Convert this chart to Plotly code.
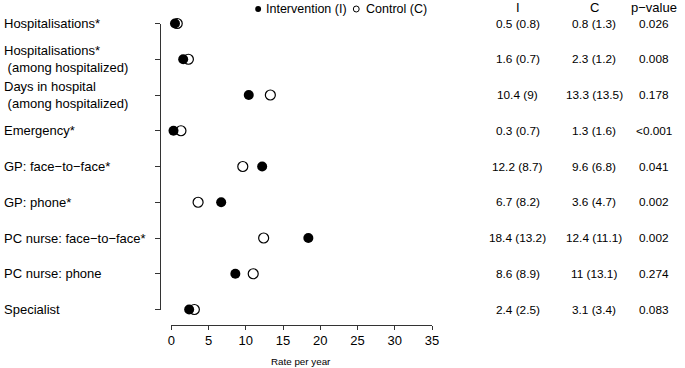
import plotly.graph_objects as go

W, H = 685, 368

categories = [
    "Hospitalisations*",
    "Hospitalisations*<br>\u00a0(among hospitalized)",
    "Days in hospital<br>\u00a0(among hospitalized)",
    "Emergency*",
    "GP: face\u2212to\u2212face*",
    "GP: phone*",
    "PC nurse: face\u2212to\u2212face*",
    "PC nurse: phone",
    "Specialist",
]
intervention = [0.5, 1.6, 10.4, 0.3, 12.2, 6.7, 18.4, 8.6, 2.4]
control = [0.8, 2.3, 13.3, 1.3, 9.6, 3.6, 12.4, 11.0, 3.1]
col_I = ["0.5 (0.8)", "1.6 (0.7)", "10.4 (9)", "0.3 (0.7)", "12.2 (8.7)",
         "6.7 (8.2)", "18.4 (13.2)", "8.6 (8.9)", "2.4 (2.5)"]
col_C = ["0.8 (1.3)", "2.3 (1.2)", "13.3 (13.5)", "1.3 (1.6)", "9.6 (6.8)",
         "3.6 (4.7)", "12.4 (11.1)", "11 (13.1)", "3.1 (3.4)"]
col_p = ["0.026", "0.008", "0.178", "<0.001", "0.041",
         "0.002", "0.002", "0.274", "0.083"]
x_ticks = [0, 5, 10, 15, 20, 25, 30, 35]

FONT = "Liberation Sans, Arial, Helvetica, sans-serif"
AX = "#333333"

def px(x):
    return x / W

def py(y):
    return 1 - y / H

idx = list(range(len(categories)))

fig = go.Figure()
fig.add_trace(go.Scatter(
    x=control, y=idx, mode="markers", name="Control (C)",
    marker=dict(symbol="circle-open", size=10, color="black", line=dict(width=1.2, color="black")),
    cliponaxis=False, showlegend=False))
fig.add_trace(go.Scatter(
    x=intervention, y=idx, mode="markers", name="Intervention (I)",
    marker=dict(symbol="circle", size=10, color="black", line=dict(width=0)),
    cliponaxis=False, showlegend=False))

annotations = []
for i, lab in enumerate(categories):
    annotations.append(dict(x=0, xref="paper", y=i, yref="y", text=lab,
                            xanchor="left", yanchor="middle", align="left",
                            borderpad=0, borderwidth=0,
                            showarrow=False, font=dict(size=13, color="black", family=FONT)))
    for xc, col in ((522, col_I), (600, col_C), (661, col_p)):
        annotations.append(dict(x=px(xc), xref="paper", y=i, yref="y", text=col[i],
                                xanchor="center", yanchor="middle", showarrow=False,
                                font=dict(size=11.8, color="black", family=FONT)))
for xc, t in ((522, "I"), (600, "C"), (661, "p\u2212value")):
    annotations.append(dict(x=px(xc), xref="paper", y=py(8), yref="paper", text=t,
                            xanchor="center", yanchor="middle", showarrow=False,
                            font=dict(size=13, color="black", family=FONT)))
# axis title
annotations.append(dict(x=px(301.5), xref="paper", y=py(361), yref="paper", text="Rate per year",
                        xanchor="center", yanchor="middle", showarrow=False,
                        font=dict(size=9.8, color="black", family=FONT)))
# legend
annotations.append(dict(x=px(266.5), xref="paper", y=py(9), yref="paper", text="Intervention (I)",
                        xanchor="left", yanchor="middle", showarrow=False, borderpad=0, borderwidth=0,
                        font=dict(size=12.5, color="black", family=FONT)))
annotations.append(dict(x=px(367.5), xref="paper", y=py(9), yref="paper", text="Control (C)",
                        xanchor="left", yanchor="middle", showarrow=False, borderpad=0, borderwidth=0,
                        font=dict(size=12.5, color="black", family=FONT)))
shapes = [
    dict(type="circle", xref="paper", yref="paper",
         x0=px(255.3), x1=px(261.3), y0=py(12), y1=py(6),
         fillcolor="black", line=dict(width=0)),
    dict(type="circle", xref="paper", yref="paper",
         x0=px(355), x1=px(361), y0=py(12), y1=py(6),
         fillcolor="rgba(0,0,0,0)", line=dict(width=1, color="black")),
]

fig.update_layout(
    width=W, height=H, autosize=False,
    margin=dict(l=0, r=0, t=0, b=0),
    paper_bgcolor="white", plot_bgcolor="white",
    showlegend=False,
    font=dict(family=FONT, size=13, color="black"),
    xaxis=dict(domain=[px(170), px(435)], range=[0, 35], tickvals=x_ticks,
               showline=True, linecolor=AX, linewidth=1, ticks="outside", ticklen=4,
               tickcolor=AX, tickwidth=1, showgrid=False, zeroline=False,
               anchor="free", position=py(324.5),
               tickfont=dict(size=13, color="black", family=FONT)),
    yaxis=dict(domain=[py(309.5), py(23.5)], range=[8, 0], tickvals=idx,
               showline=True, linecolor=AX, linewidth=1, ticks="outside", ticklen=5,
               tickcolor=AX, tickwidth=1, showgrid=False, zeroline=False,
               showticklabels=False, anchor="free", position=px(158.5)),
    annotations=annotations,
    shapes=shapes,
)

fig.write_html("out.html", config={"displayModeBar": False, "staticPlot": True},
               post_script="document.body.style.margin='0';document.body.style.padding='0';document.body.style.overflow='hidden';")
